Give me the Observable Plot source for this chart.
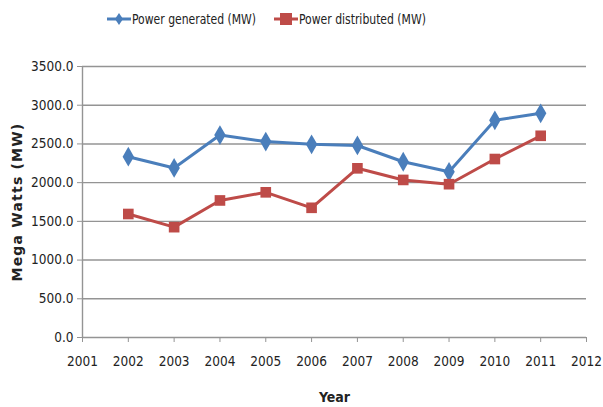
<!DOCTYPE html>
<html>
<head>
<meta charset="utf-8">
<script src="https://cdn.jsdelivr.net/npm/d3@7"></script>
<script src="https://cdn.jsdelivr.net/npm/@observablehq/plot@0.6"></script>
<style>
  html, body { margin: 0; padding: 0; background: #fff; }
  body { width: 603px; height: 407px; overflow: hidden; font-family: "DejaVu Sans Condensed", "Liberation Sans Narrow", sans-serif; position: relative; }
  #legend { height: 40px; font-size: 14px; color: #222; }
  .item { display: flex; align-items: center; position: absolute; top: 11px; }
  .item svg { margin-right: 1px; }
  .item span { display: inline-block; transform: scaleX(0.86); transform-origin: left center; white-space: nowrap; }
</style>
</head>
<body>
<div id="legend"></div>
<div id="chart"></div>
<script>
const years = [2002, 2003, 2004, 2005, 2006, 2007, 2008, 2009, 2010, 2011];
const generated = [2335, 2190, 2615, 2530, 2495, 2480, 2270, 2140, 2805, 2895];
const distributed = [1595, 1425, 1770, 1875, 1675, 2185, 2035, 1980, 2305, 2605];
const seriesNames = ["Power generated (MW)", "Power distributed (MW)"];
const seriesColors = ["#4a7ebb", "#be4b48"];
const seriesSymbols = ["diamond", "square"];
const xDomain = [2001, 2012];
const yDomain = [0, 3500];
const yTicks = [0, 500, 1000, 1500, 2000, 2500, 3000, 3500];
const xTicks = [2001, 2002, 2003, 2004, 2005, 2006, 2007, 2008, 2009, 2010, 2011, 2012];

const data = [];
years.forEach((y, i) => {
  data.push({year: y, value: generated[i], series: seriesNames[0]});
  data.push({year: y, value: distributed[i], series: seriesNames[1]});
});

// Legend
const legend = document.getElementById("legend");
const legendLeft = [107, 274];
seriesNames.forEach((name, i) => {
  const item = document.createElement("div");
  item.className = "item";
  item.style.left = legendLeft[i] + "px";
  const sym = i === 0
    ? `<path d="M12,2 L16,8 L12,14 L8,8 Z" fill="${seriesColors[i]}"/>`
    : `<rect x="6" y="2" width="12" height="12" fill="${seriesColors[i]}"/>`;
  item.innerHTML = `<svg width="24" height="16"><line x1="0" y1="8" x2="24" y2="8" stroke="${seriesColors[i]}" stroke-width="3"/>${sym}</svg><span>${name}</span>`;
  legend.appendChild(item);
});

const chart = Plot.plot({
  width: 603,
  height: 367,
  marginTop: 26,
  marginBottom: 70,
  marginLeft: 82,
  marginRight: 17,
  style: {fontFamily: '"DejaVu Sans Condensed", "Liberation Sans Narrow", sans-serif', fontSize: "13.5px", color: "#222", background: "#fff"},
  x: {domain: xDomain, label: null},
  y: {domain: yDomain, label: null},
  color: {domain: seriesNames, range: seriesColors},
  symbol: {domain: seriesNames, range: seriesSymbols},
  marks: [
    Plot.ruleY(yTicks, {stroke: "#949494", strokeWidth: 1.4}),
    Plot.ruleX([xDomain[0]], {stroke: "#949494", strokeWidth: 1.4}),
    Plot.axisY({ticks: yTicks, tickFormat: d => d.toFixed(1), tickSize: 5, tickPadding: 4, stroke: "#949494", fontSize: 13.5, fill: "#222",
      label: "Mega Watts (MW)", labelAnchor: "center", labelArrow: "none", labelOffset: 70}),
    Plot.axisX({ticks: xTicks, tickFormat: d => String(d), tickSize: 5, tickPadding: 14, stroke: "#949494", fontSize: 13.5, fill: "#222",
      label: "Year", labelAnchor: "center", labelArrow: "none", labelOffset: 64}),
    Plot.line(data, {x: "year", y: "value", z: "series", stroke: "series", strokeWidth: 3}),
    Plot.dot(data, {x: "year", y: "value", fill: "series", symbol: "series", r: 6, stroke: null})
  ]
});
document.getElementById("chart").appendChild(chart);
// style axis titles bold
chart.querySelectorAll("g[aria-label='y-axis label'] text").forEach(t => {
  t.style.fontWeight = "bold";
  t.style.fontSize = "14px";
  t.style.fontFamily = '"DejaVu Sans", sans-serif';
  t.style.letterSpacing = "1.2px";
});
chart.querySelectorAll("g[aria-label='x-axis label'] text").forEach(t => {
  t.style.fontWeight = "bold";
  t.style.fontSize = "14px";
});
</script>
</body>
</html>
